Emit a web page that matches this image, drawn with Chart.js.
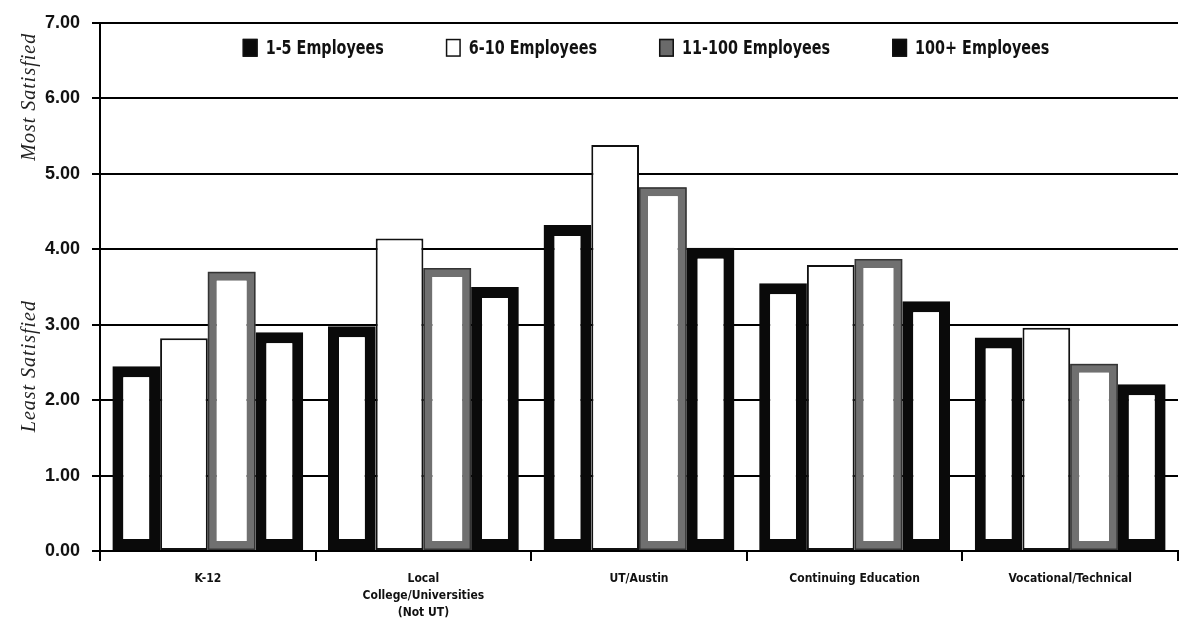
<!DOCTYPE html>
<html lang="en">
<head>
<meta charset="UTF-8" />
<title>Satisfaction with Training Providers by Company Size</title>
<style>
  html, body { margin: 0; padding: 0; background: #fff; }
  #wrap { width: 1193px; height: 625px; }
</style>
</head>
<body>
<div id="wrap"><canvas id="satChart" width="1193" height="625"></canvas></div>

<script src="https://cdn.jsdelivr.net/npm/chart.js"></script>
<script>
  // providers along the bottom, one group of four bars each
  const providers = ['K-12', ['Local', 'College/Universities', '(Not UT)'], 'UT/Austin', 'Continuing Education', 'Vocational/Technical'];
  const sizeLabels = ['1-5 Employees', '6-10 Employees', '11-100 Employees', '100+ Employees'];

  // mean satisfaction scores per company size
  const size1to5 = [2.45, 2.98, 4.32, 3.55, 2.83];
  const size6to10 = [2.82, 4.14, 5.38, 3.79, 2.96];
  const size11to100 = [3.70, 3.75, 4.82, 3.87, 2.48];
  const size100plus = [2.90, 3.50, 4.02, 3.31, 2.21];

  const yTickValues = [0, 1, 2, 3, 4, 5, 6, 7];

  const CONDENSED = '"DejaVu Sans Condensed", "DejaVu Sans", sans-serif';

  function barSet(label, data, border, width, legendFill) {
    return {
      label: label,
      data: data,
      backgroundColor: '#fff',
      borderColor: border,
      borderWidth: width,
      borderSkipped: false,
      categoryPercentage: 0.885,
      barPercentage: 1.0,
      legendFill: legendFill
    };
  }

  // italic side captions on the value axis
  const sideTitles = {
    id: 'sideTitles',
    afterDraw(chart) {
      const { ctx, chartArea } = chart;
      const h = chartArea.bottom - chartArea.top;
      ctx.save();
      ctx.fillStyle = '#222';
      ctx.font = 'italic 20px "Liberation Serif", "DejaVu Serif", serif';
      ctx.letterSpacing = '1px';
      ctx.textAlign = 'center';
      ctx.textBaseline = 'middle';
      [['Most Satisfied', 0.14], ['Least Satisfied', 0.65]].forEach(([txt, f]) => {
        ctx.save();
        ctx.translate(30, chartArea.top + h * f);
        ctx.rotate(-Math.PI / 2);
        ctx.fillText(txt, 0, 0);
        ctx.restore();
      });
      ctx.restore();
    }
  };

  // legend row sitting inside the plot, near the top; text squeezed a little
  const topLegend = {
    id: 'topLegend',
    afterDraw(chart) {
      const { ctx, chartArea } = chart;
      const boxW = 15, boxH = 18, textGap = 8, itemGap = 62, squeeze = 0.84;
      ctx.save();
      ctx.font = 'bold 19px ' + CONDENSED;
      const sets = chart.data.datasets;
      const textW = sets.map(ds => ctx.measureText(ds.label).width * squeeze);
      const widths = textW.map(w => boxW + textGap + w);
      const total = widths.reduce((a, b) => a + b, 0) + itemGap * (sets.length - 1);
      let x = (chartArea.left + chartArea.right) / 2 - total / 2 + 7;
      const y = chartArea.top + 25;
      sets.forEach((ds, i) => {
        ctx.fillStyle = ds.legendFill;
        ctx.fillRect(x, y - boxH / 2, boxW, boxH);
        ctx.strokeStyle = '#111';
        ctx.lineWidth = 1.5;
        ctx.strokeRect(x + 0.75, y - boxH / 2 + 0.75, boxW - 1.5, boxH - 1.5);
        ctx.save();
        ctx.translate(x + boxW + textGap, y + 1);
        ctx.scale(squeeze, 1);
        ctx.fillStyle = '#111';
        ctx.textBaseline = 'middle';
        ctx.textAlign = 'left';
        ctx.fillText(ds.label, 0, 0);
        ctx.restore();
        x += widths[i] + itemGap;
      });
      ctx.restore();
    }
  };

  // thin dark edge around the grey-bordered bars
  const greyEdge = {
    id: 'greyEdge',
    afterDatasetsDraw(chart) {
      const { ctx } = chart;
      const meta = chart.getDatasetMeta(2);
      ctx.save();
      ctx.strokeStyle = '#333';
      ctx.lineWidth = 1.5;
      meta.data.forEach(bar => {
        const left = bar.x - bar.width / 2;
        ctx.strokeRect(left + 0.75, bar.y + 0.75, bar.width - 1.5, bar.base - bar.y - 1.5);
      });
      ctx.restore();
    }
  };

  new Chart(document.getElementById('satChart'), {
    type: 'bar',
    data: {
      labels: providers,
      datasets: [
        barSet(sizeLabels[0], size1to5, '#0a0a0a', 11, '#0a0a0a'),
        barSet(sizeLabels[1], size6to10, '#111', 2, '#fff'),
        barSet(sizeLabels[2], size11to100, '#707070', 9, '#6a6a6a'),
        barSet(sizeLabels[3], size100plus, '#0a0a0a', 11, '#0a0a0a')
      ]
    },
    plugins: [sideTitles, topLegend, greyEdge],
    options: {
      responsive: false,
      devicePixelRatio: 1,
      animation: false,
      layout: { padding: { top: 20, right: 15, left: 0, bottom: 0 } },
      plugins: {
        legend: { display: false },
        tooltip: { enabled: false }
      },
      scales: {
        x: {
          offset: true,
          grid: { offset: true, drawOnChartArea: false, drawTicks: true, tickLength: 10, color: '#000', lineWidth: 2 },
          border: { color: '#000', width: 2 },
          ticks: {
            color: '#111',
            font: { family: CONDENSED, size: 12, weight: 'bold', lineHeight: 1.38 },
            padding: 10,
            maxRotation: 0,
            autoSkip: false
          },
          afterFit(scale) { scale.height = 74; }
        },
        y: {
          min: 0,
          max: 7,
          afterBuildTicks(scale) { scale.ticks = yTickValues.map(v => ({ value: v })); },
          ticks: {
            color: '#111',
            font: { family: '"Liberation Sans", Arial, sans-serif', size: 18, weight: 'bold' },
            padding: 12,
            callback: v => Number(v).toFixed(2)
          },
          grid: { color: '#000', lineWidth: 2, tickLength: 8 },
          border: { color: '#000', width: 2 },
          afterFit(scale) { scale.width = 100; }
        }
      }
    }
  });
</script>
</body>
</html>
